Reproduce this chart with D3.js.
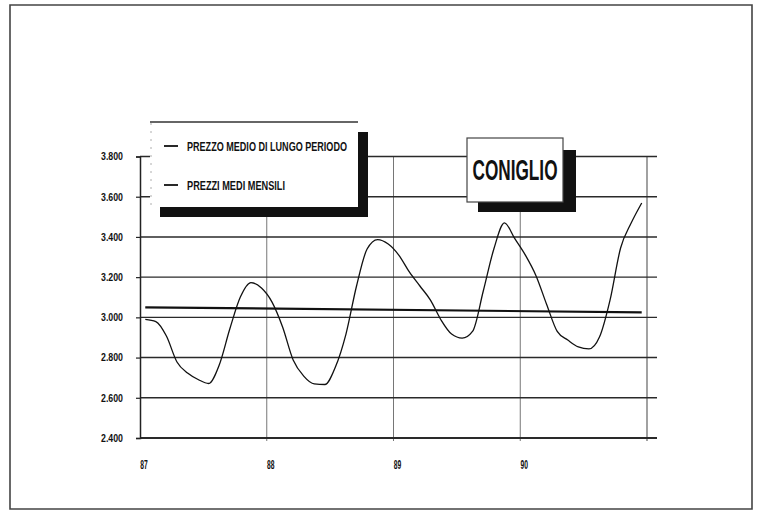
<!DOCTYPE html>
<html>
<head>
<meta charset="utf-8">
<script src="https://cdn.jsdelivr.net/npm/d3@7"></script>
<style>
  html, body { margin: 0; padding: 0; background: #fff; }
  svg { display: block; }
  text { font-family: "Liberation Sans Narrow", "Arial Narrow", "Liberation Sans", Arial, sans-serif; font-weight: bold; fill: #111; }
</style>
</head>
<body>
<svg id="chart" width="763" height="512"></svg>
<script>
// ---- data ----
const years = ["87", "88", "89", "90"];
const yTicks = [2400, 2600, 2800, 3000, 3200, 3400, 3600, 3800];
const monthlyPrices = [
  2990, 2979, 2907, 2778, 2723, 2691, 2671, 2763, 2942, 3101, 3173, 3146,
  3076, 2952, 2788, 2708, 2669, 2666, 2753, 2917, 3156, 3340, 3387, 3365,
  3310, 3226, 3156, 3086, 2987, 2917, 2897, 2932, 3131, 3340, 3470, 3390,
  3308, 3206, 3064, 2930, 2887, 2853, 2843, 2902, 3086, 3345, 3469, 3569
];
const longRunPrice = [3050, 3025];   // start and end of the long-period average line
const legendLabels = ["PREZZO MEDIO DI LUNGO PERIODO", "PREZZI MEDI MENSILI"];
const title = "CONIGLIO";

// ---- layout ----
const svg = d3.select("#chart");
const x = d3.scaleLinear().domain([0, 48]).range([140, 647]);
const y = d3.scaleLinear().domain([2400, 3800]).range([438, 156.5]);
const gridRight = 657;

// outer frame
svg.append("path")
  .attr("d", "M10,509 L10,5 L752,5 L752,509 Z")
  .attr("fill", "none").attr("stroke", "#444").attr("stroke-width", 1.6);

// vertical year gridlines
const vg = svg.append("g");
[12, 24, 36].forEach(m => {
  vg.append("line")
    .attr("x1", x(m)).attr("x2", x(m))
    .attr("y1", y(3800)).attr("y2", y(2400) + 3)
    .attr("stroke", "#666").attr("stroke-width", 0.9);
});
vg.append("line")
  .attr("x1", x(48)).attr("x2", x(48))
  .attr("y1", y(3800)).attr("y2", y(2400) + 3)
  .attr("stroke", "#555").attr("stroke-width", 1.1);

// horizontal gridlines
svg.append("g").selectAll("line").data(yTicks).join("line")
  .attr("x1", x(0)).attr("x2", gridRight)
  .attr("y1", d => y(d)).attr("y2", d => y(d))
  .attr("stroke", "#2a2a2a").attr("stroke-width", d => d === 2400 ? 1.8 : 1.4);

// y axis
const yAxis = d3.axisLeft(y).tickValues(yTicks)
  .tickFormat(d => d3.format(",")(d).replace(",", ".")).tickSize(4).tickPadding(13);
const gy = svg.append("g").attr("transform", `translate(${x(0)},0)`).call(yAxis);
gy.select(".domain").attr("stroke", "#222").attr("stroke-width", 1.5);
gy.selectAll(".tick line").attr("stroke", "#222").attr("stroke-width", 1.2);
gy.selectAll(".tick text")
  .attr("font-size", 10.5).attr("textLength", 22).attr("lengthAdjust", "spacingAndGlyphs")
  .style("font-family", "'Liberation Sans Narrow','Liberation Sans',sans-serif").style("font-weight", "bold").attr("fill", "#111");

// x axis labels
svg.append("g").selectAll("text").data(years).join("text")
  .attr("x", (d, i) => x(i * 12) + 4)
  .attr("y", 469)
  .attr("text-anchor", "middle")
  .attr("font-size", 12)
  .attr("textLength", 7.5).attr("lengthAdjust", "spacingAndGlyphs")
  .text(d => d);

// long-run average line
svg.append("line")
  .attr("x1", x(0.5)).attr("x2", x(47.5))
  .attr("y1", y(longRunPrice[0])).attr("y2", y(longRunPrice[1]))
  .attr("stroke", "#111").attr("stroke-width", 2.2);

// monthly line
const line = d3.line()
  .x((d, i) => x(i + 0.5))
  .y(d => y(d))
  .curve(d3.curveMonotoneX);
svg.append("path").datum(monthlyPrices)
  .attr("d", line)
  .attr("fill", "none").attr("stroke", "#111").attr("stroke-width", 1.3);

// legend box with shadow
const lg = svg.append("g");
lg.append("rect").attr("x", 160).attr("y", 132).attr("width", 208).attr("height", 85).attr("fill", "#111");
lg.append("rect").attr("x", 150).attr("y", 122).attr("width", 208).attr("height", 85).attr("fill", "#fff");
lg.append("line").attr("x1", 150).attr("x2", 358).attr("y1", 122).attr("y2", 122)
  .attr("stroke", "#333").attr("stroke-width", 1.6);
lg.append("line").attr("x1", 151).attr("x2", 151).attr("y1", 123).attr("y2", 206)
  .attr("stroke", "#999").attr("stroke-width", 0.8).attr("stroke-dasharray", "2,6");
const legY = [146, 185];
legendLabels.forEach((t, i) => {
  lg.append("line").attr("x1", 164).attr("x2", 178).attr("y1", legY[i]).attr("y2", legY[i])
    .attr("stroke", "#111").attr("stroke-width", 1.8);
  lg.append("text").attr("x", 187).attr("y", legY[i] + 4.5)
    .attr("font-size", 12)
    .attr("textLength", i === 0 ? 160 : 98).attr("lengthAdjust", "spacingAndGlyphs")
    .text(t);
});

// title box with shadow
const tg = svg.append("g");
tg.append("rect").attr("x", 478).attr("y", 150).attr("width", 98).attr("height", 62).attr("fill", "#111");
tg.append("rect").attr("x", 467).attr("y", 138).attr("width", 96).attr("height", 64)
  .attr("fill", "#fff").attr("stroke", "#444").attr("stroke-width", 1.2);
tg.append("text").attr("x", 515).attr("y", 180)
  .attr("text-anchor", "middle").attr("font-size", 29)
  .attr("textLength", 85).attr("lengthAdjust", "spacingAndGlyphs")
  .text(title);
</script>
</body>
</html>
